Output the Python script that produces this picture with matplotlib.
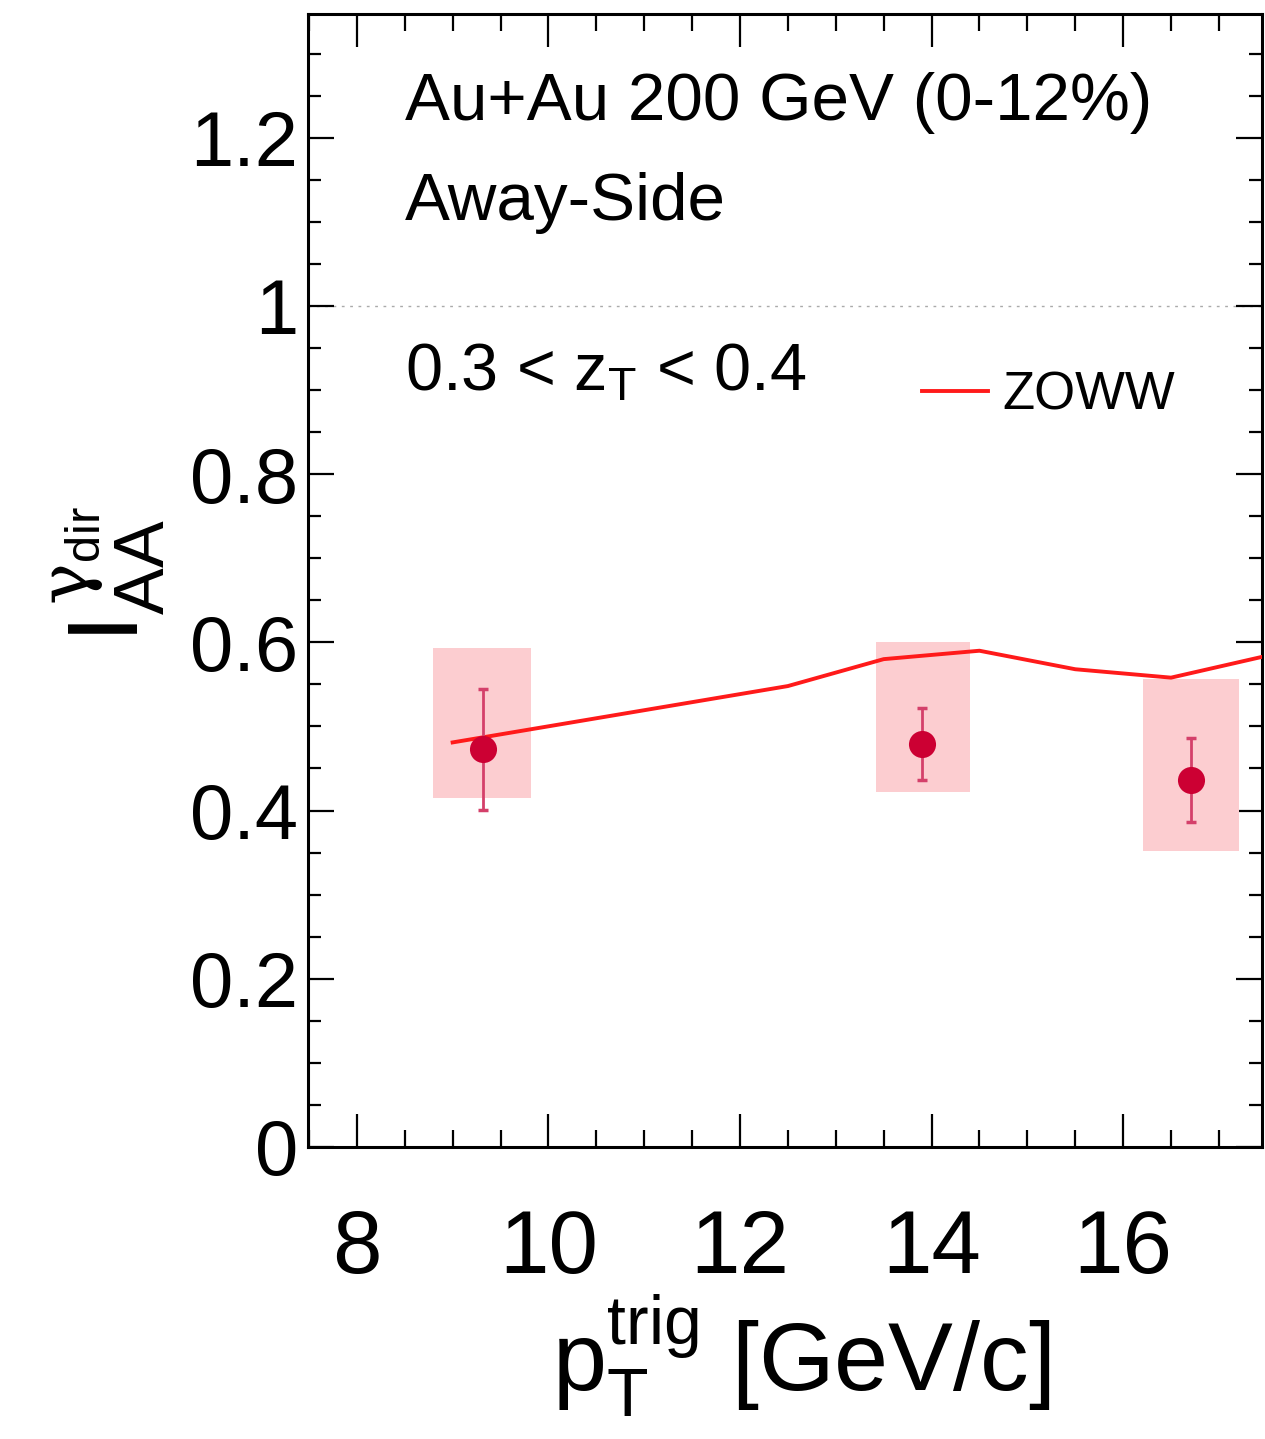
import matplotlib
matplotlib.use("Agg")
import matplotlib.pyplot as plt
from matplotlib.ticker import MultipleLocator, FixedLocator
from matplotlib.lines import Line2D

plt.rcParams['font.family'] = ['Liberation Sans', 'DejaVu Sans']
plt.rcParams['mathtext.fontset'] = 'custom'
plt.rcParams['mathtext.rm'] = 'Liberation Sans'
plt.rcParams['mathtext.it'] = 'Liberation Sans'
plt.rcParams['mathtext.sf'] = 'DejaVu Serif'
plt.rcParams['mathtext.bf'] = 'Liberation Sans:bold'
plt.rcParams['mathtext.default'] = 'regular'

# ---- data ----
pt_trig = [9.32, 13.90, 16.71]
iaa = [0.473, 0.479, 0.436]
stat_err = [0.072, 0.043, 0.050]
sys_low = [0.415, 0.422, 0.352]
sys_high = [0.593, 0.600, 0.556]
sys_left = [8.80, 13.42, 16.21]
sys_right = [9.82, 14.40, 17.21]

zoww_x = [9.0, 12.5, 13.5, 14.5, 15.5, 16.5, 17.5]
zoww_y = [0.481, 0.548, 0.580, 0.590, 0.568, 0.558, 0.584]

x_ticks = [8, 10, 12, 14, 16]
y_ticks = [0, 0.2, 0.4, 0.6, 0.8, 1.0, 1.2]
y_ticklabels = ['0', '0.2', '0.4', '0.6', '0.8', '1', '1.2']

W, H = 1265, 1439
fig = plt.figure(figsize=(W / 100, H / 100), dpi=100)
ax = fig.add_axes([308 / W, 1 - 1147 / H, (1262 - 308) / W, (1147 - 14) / H])

ax.set_xlim(7.49, 17.45)
ax.set_ylim(0, 1.347)

# reference line
ax.axhline(1.0, color='#aaaaaa', lw=1.0, ls=(0, (2, 4)), zorder=1)

# systematic boxes
widths = [r - l for l, r in zip(sys_left, sys_right)]
heights = [h - l for l, h in zip(sys_low, sys_high)]
ax.bar(sys_left, heights, width=widths, bottom=sys_low, align='edge',
       color='#fccdd0', edgecolor='none', zorder=2)

# model curve
ax.plot(zoww_x, zoww_y, color='#ff1a1a', lw=2.8, zorder=3, clip_on=True)

# data points
ax.errorbar(pt_trig, iaa, yerr=stat_err, fmt='none', ecolor='#d4406a',
            elinewidth=2.0, capsize=3.5, capthick=2.5, zorder=4)
ax.plot(pt_trig, iaa, 'o', color='#cc0033', ms=19.5, mec='none', zorder=5)

# ticks
ax.xaxis.set_major_locator(FixedLocator(x_ticks))
ax.xaxis.set_minor_locator(MultipleLocator(0.5))
ax.yaxis.set_major_locator(FixedLocator(y_ticks))
ax.yaxis.set_minor_locator(MultipleLocator(0.05))
ax.set_xticklabels([str(v) for v in x_ticks])
ax.set_yticklabels(y_ticklabels)

ax.tick_params(axis='x', which='major', direction='in', length=24, width=1.6,
               top=True, labelsize=64, pad=44)
ax.tick_params(axis='x', which='minor', direction='in', length=12, width=1.6, top=True)
ax.tick_params(axis='y', which='major', direction='in', length=19, width=1.6,
               right=True, labelsize=56, pad=7)
ax.tick_params(axis='y', which='minor', direction='in', length=9.5, width=1.6, right=True)

for s in ax.spines.values():
    s.set_linewidth(2.2)

# labels
ax.set_xlabel(r'$p_{T}^{trig}$ [GeV/c]', fontsize=70)
ax.xaxis.set_label_coords(0.517, -0.216)
ax.xaxis.label.set_va('baseline')

ax.set_ylabel(r'$I^{\,\mathsf{\gamma}_{dir}}_{AA}$', fontsize=72)
ax.yaxis.set_label_coords(-0.147, 0.505)

# annotations
ax.text(0.1017, 0.9064, 'Au+Au 200 GeV (0-12%)', transform=ax.transAxes,
        fontsize=48.5, va='baseline', ha='left')
ax.text(0.1017, 0.818, 'Away-Side', transform=ax.transAxes,
        fontsize=48.5, va='baseline', ha='left')
ax.text(0.1017, 0.668, r'0.3 < z$_{T}$ < 0.4', transform=ax.transAxes,
        fontsize=48, va='baseline', ha='left')

handle = Line2D([], [], color='#ff1a1a', lw=2.8)
ax.legend([handle], ['ZOWW'], loc='center left', bbox_to_anchor=(0.6436, 0.663),
          frameon=False, fontsize=38, handlelength=1.25, handletextpad=0.28,
          borderpad=0, borderaxespad=0)

fig.savefig('out.png', dpi=100)
